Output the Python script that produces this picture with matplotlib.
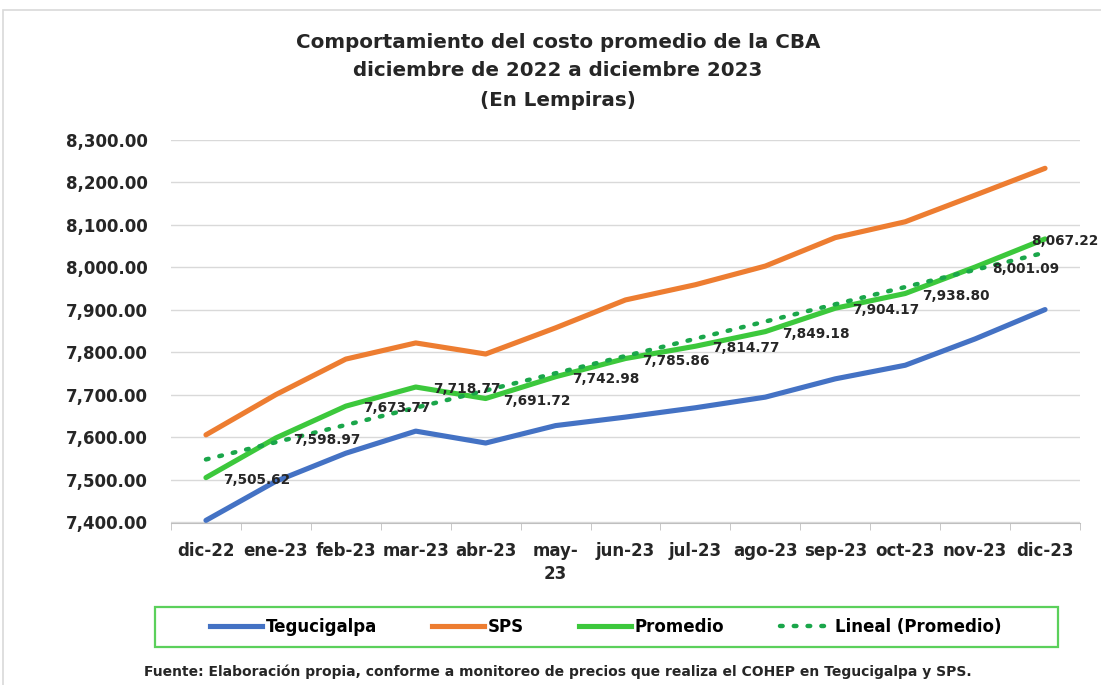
import numpy as np
import matplotlib
matplotlib.use('Agg')
import matplotlib.pyplot as plt
from matplotlib.lines import Line2D
from matplotlib.patches import Rectangle
from matplotlib.ticker import FuncFormatter

### Data ###
meses = ['dic-22', 'ene-23', 'feb-23', 'mar-23', 'abr-23', 'may-\n23', 'jun-23',
         'jul-23', 'ago-23', 'sep-23', 'oct-23', 'nov-23', 'dic-23']
tegucigalpa = [7405, 7497, 7563, 7615, 7587, 7628, 7648, 7670, 7695, 7738, 7770, 7832, 7901]
sps = [7606.2, 7700.9, 7784.5, 7822.5, 7796.4, 7858.0, 7923.7, 7959.5, 8003.4,
       8070.3, 8107.6, 8170.2, 8233.4]
promedio = [7505.62, 7598.97, 7673.77, 7718.77, 7691.72, 7742.98, 7785.86,
            7814.77, 7849.18, 7904.17, 7938.80, 8001.09, 8067.22]

# data label offsets (pixels, left edge of text relative to point)
lbl_dx = [17] * 12 + [-14]
lbl_dy = [-2] * 13

c_teg = '#4472C4'
c_sps = '#ED7D31'
c_prom = '#3CC83C'
c_trend = '#1AA64A'
c_text = '#262626'

x = np.arange(len(meses))
coef = np.polyfit(x, promedio, 1)
tendencia = np.polyval(coef, x)

px = 0.72  # points per pixel at dpi 100
plt.rcParams['font.family'] = ['DejaVu Sans']
fig = plt.figure(figsize=(11.01, 6.85), dpi=100)
ax = fig.add_axes([171 / 1101, 1 - 522.5 / 685, 909 / 1101, 382.5 / 685])

lw = 3.7
dots = (0, (0.6, 2.5))
ax.plot(x, tegucigalpa, color=c_teg, lw=lw, solid_capstyle='round', zorder=3)
ax.plot(x, sps, color=c_sps, lw=lw, solid_capstyle='round', zorder=3)
ax.plot(x, promedio, color=c_prom, lw=lw, solid_capstyle='round', zorder=4)
ax.plot(x, tendencia, color=c_trend, lw=3.2, linestyle=dots,
        dash_capstyle='round', zorder=5)

for i, v in enumerate(promedio):
    ax.annotate(f'{v:,.2f}', (x[i], v), xytext=(lbl_dx[i] * px, lbl_dy[i] * px),
                textcoords='offset points', ha='left', va='center',
                fontsize=9.8, fontweight='bold', color=c_text, zorder=6,
                annotation_clip=False)

ax.set_xlim(-0.5, len(meses) - 0.5)
ax.set_ylim(7400, 8300)
ax.set_yticks(np.arange(7400, 8301, 100))
ax.yaxis.set_major_formatter(FuncFormatter(lambda v, p: f'{v:,.2f}'))
ax.set_xticks(x)
ax.set_xticklabels(meses, linespacing=1.35)
ax.set_xticks(np.arange(-0.5, len(meses), 1), minor=True)
ax.tick_params(axis='x', which='major', length=0, pad=14)
ax.tick_params(axis='x', which='minor', length=5, color='#bfbfbf')
ax.tick_params(axis='y', length=0, pad=16.5)
for lab in ax.get_xticklabels() + ax.get_yticklabels():
    lab.set_fontweight('bold')
    lab.set_fontsize(12)
    lab.set_color(c_text)
ax.grid(axis='y', color='#d9d9d9', lw=1)
ax.set_axisbelow(True)
for s in ['top', 'right', 'left']:
    ax.spines[s].set_visible(False)
ax.spines['bottom'].set_color('#bfbfbf')

titulo = ['Comportamiento del costo promedio de la CBA',
          'diciembre de 2022 a diciembre 2023',
          '(En Lempiras)']
for k, t in enumerate(titulo):
    fig.text(558 / 1101, 1 - (42 + 29 * k) / 685, t, ha='center', va='center',
             fontsize=14.3, fontweight='bold', color=c_text)

handles = [Line2D([], [], color=c_teg, lw=lw),
           Line2D([], [], color=c_sps, lw=lw),
           Line2D([], [], color=c_prom, lw=lw),
           Line2D([], [], color=c_trend, lw=3.2, linestyle=dots,
                  dash_capstyle='round')]
names = ['Tegucigalpa', 'SPS', 'Promedio', 'Lineal (Promedio)']
fig.legend(handles, names, loc='center', bbox_to_anchor=(606 / 1101, 1 - 627 / 685),
           ncol=4, frameon=False, columnspacing=3.3, handlelength=3.1,
           handletextpad=0.25, prop={'weight': 'bold', 'size': 12})
fig.patches.append(Rectangle((155 / 1101, 1 - 647 / 685), 903 / 1101, 40 / 685,
                             transform=fig.transFigure, fill=False,
                             edgecolor='#5BD05B', lw=1.6))

fig.text(144 / 1101, 1 - 672 / 685, 'Fuente: Elaboración propia, conforme a monitoreo de precios '
         'que realiza el COHEP en Tegucigalpa y SPS.', ha='left', va='center',
         fontsize=10, fontweight='bold', color=c_text)

fig.patches.append(Rectangle((0.003, -0.1), 1.1, 1.085, transform=fig.transFigure,
                             fill=False, edgecolor='#d9d9d9', lw=1.2))

fig.savefig('out.png', dpi=100)
